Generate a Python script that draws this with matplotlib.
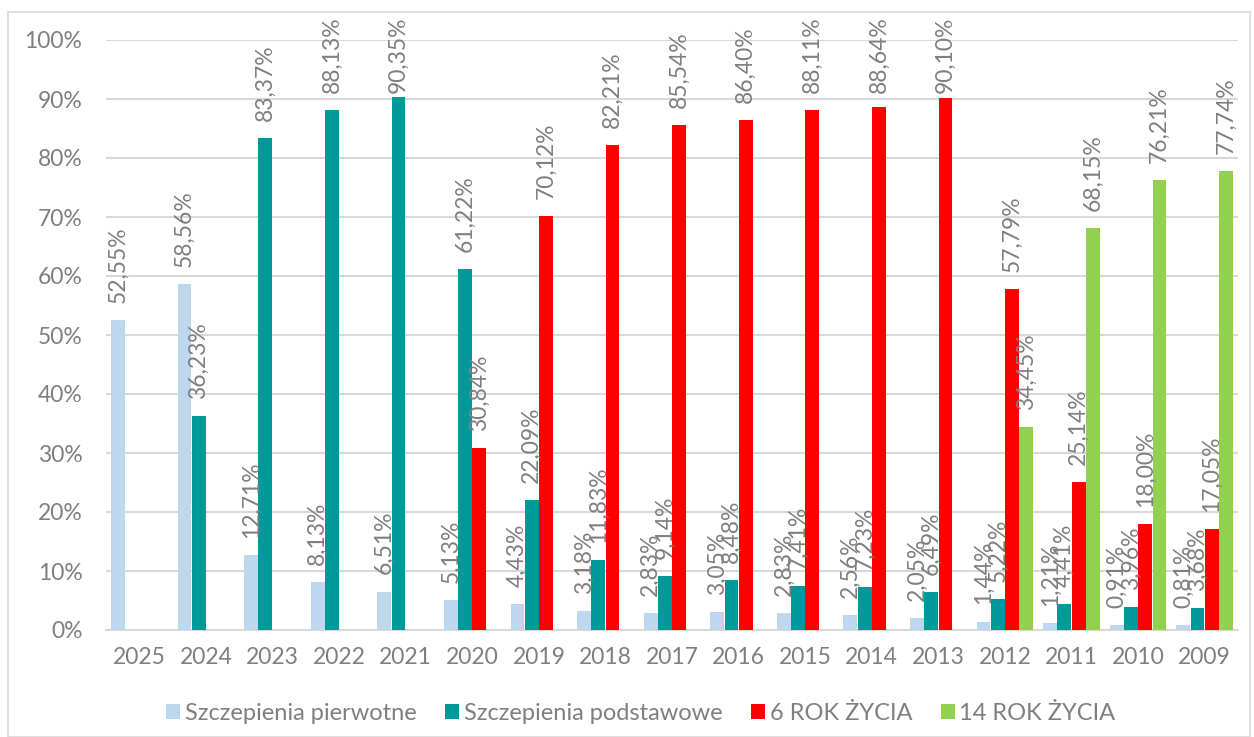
import numpy as np
import matplotlib.pyplot as plt
from matplotlib.patches import Rectangle

# data (percent)
years = ['2025', '2024', '2023', '2022', '2021', '2020', '2019', '2018', '2017',
         '2016', '2015', '2014', '2013', '2012', '2011', '2010', '2009']
nan = np.nan
pierwotne = [52.55, 58.56, 12.71, 8.13, 6.51, 5.13, 4.43, 3.18, 2.83,
             3.05, 2.83, 2.56, 2.05, 1.44, 1.21, 0.91, 0.81]
podstawowe = [nan, 36.23, 83.37, 88.13, 90.35, 61.22, 22.09, 11.83, 9.14,
              8.48, 7.41, 7.23, 6.49, 5.22, 4.41, 3.96, 3.68]
rok6 = [nan, nan, nan, nan, nan, 30.84, 70.12, 82.21, 85.54,
        86.40, 88.11, 88.64, 90.10, 57.79, 25.14, 18.00, 17.05]
rok14 = [nan, nan, nan, nan, nan, nan, nan, nan, nan,
         nan, nan, nan, nan, 34.45, 68.15, 76.21, 77.74]

series = [
    ('Szczepienia pierwotne', pierwotne, '#BDD7EE'),
    ('Szczepienia podstawowe', podstawowe, '#009999'),
    ('6 ROK ŻYCIA', rok6, '#FF0000'),
    ('14 ROK ŻYCIA', rok14, '#92D050'),
]

plt.rcParams['font.family'] = ['Lato', 'DejaVu Sans']
grey = '#7F7F7F'

fig = plt.figure(figsize=(12.54, 7.37), dpi=100)
ax = fig.add_axes([106 / 1254, 107 / 737, 1132 / 1254, 590 / 737])

# chart border
fig.patches.append(Rectangle((8 / 1254, 0), 1242 / 1254, 725 / 737,
                             transform=fig.transFigure, fill=False,
                             edgecolor='#D9D9D9', linewidth=1.2))

x = np.arange(len(years))
w = 0.214
for i, (name, vals, col) in enumerate(series):
    pos = x + (i - 1.5) * w
    vals = np.array(vals, dtype=float)
    ax.bar(pos, vals, width=w * 0.97, color=col, label=name, zorder=3)
    for px, v in zip(pos, vals):
        if np.isnan(v):
            continue
        txt = f'{v:.2f}'.replace('.', ',') + '%'
        y = min(v + 2.9, 91.0)  # labels near the top get pushed down
        ax.text(px, y, txt, rotation=90, ha='center', va='bottom',
                fontsize=16.5, color=grey, clip_on=False, zorder=4)

ax.set_xlim(-0.5, len(years) - 0.5)
ax.set_ylim(0, 100)
ax.set_yticks(np.arange(0, 101, 10))
ax.set_yticklabels([f'{t}%' for t in range(0, 101, 10)])
ax.set_xticks(x)
ax.set_xticklabels(years)
ax.tick_params(axis='both', length=0, labelsize=16.5, labelcolor=grey)
ax.tick_params(axis='y', pad=17)
ax.tick_params(axis='x', pad=12)
ax.grid(axis='y', color='#D9D9D9', linewidth=1.5, zorder=0)
for s in ['top', 'right', 'left']:
    ax.spines[s].set_visible(False)
ax.spines['bottom'].set_color('#D9D9D9')
ax.spines['bottom'].set_linewidth(1.5)

leg = fig.legend(loc='center', bbox_to_anchor=(0.511, 0.032), ncol=4,
                 frameon=False, fontsize=17, handlelength=0.6,
                 handleheight=0.6, handletextpad=0.2, columnspacing=1.2)
for t in leg.get_texts():
    t.set_color(grey)

fig.savefig('out.png', dpi=100)
